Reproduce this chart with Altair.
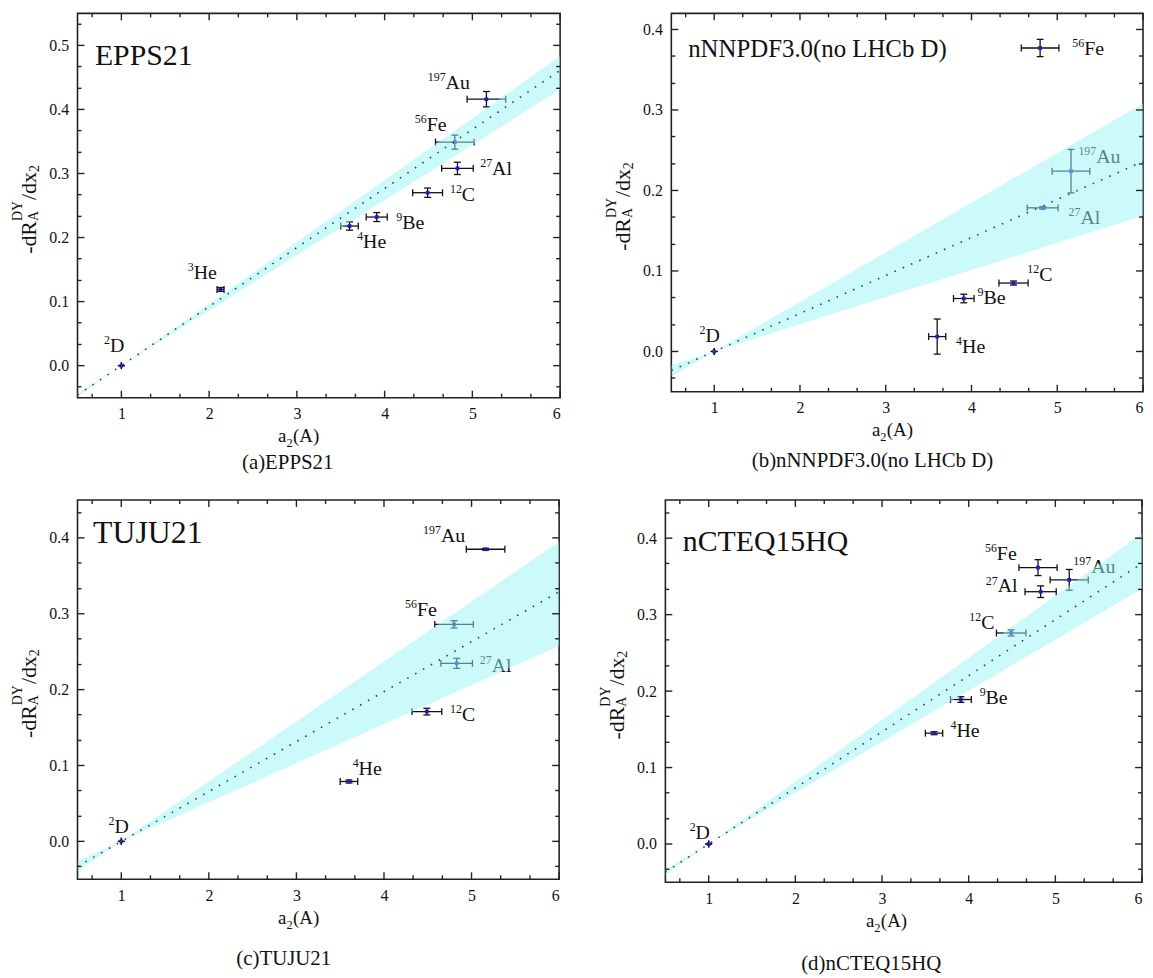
import altair as alt
import pandas as pd

FONT = "Liberation Serif"
INK = "#111111"
EB = "#111111"
PT = "#1a1ac8"
BAND = "#99f5f5"
FIT = "#1e4d4d"

# ---------------- shared tick values ----------------
X_MAJOR = [1, 2, 3, 4, 5, 6]
X_MINOR = [0.667, 1.333, 1.667, 2.333, 2.667, 3.333, 3.667, 4.333, 4.667, 5.333, 5.667]
Y_MAJOR_A = [0.0, 0.1, 0.2, 0.3, 0.4, 0.5]
Y_MINOR_A = [-0.033, 0.033, 0.067, 0.133, 0.167, 0.233, 0.267, 0.333, 0.367, 0.433, 0.467, 0.533]
Y_MAJOR_B = [0.0, 0.1, 0.2, 0.3, 0.4]
Y_MINOR_B = [-0.033, 0.033, 0.067, 0.133, 0.167, 0.233, 0.267, 0.333, 0.367]
Y_MAJOR_CD = [0.0, 0.1, 0.2, 0.3, 0.4]
Y_MINOR_CD = [-0.033, 0.033, 0.067, 0.133, 0.167, 0.233, 0.267, 0.333, 0.367, 0.433]

# ---------------- (a) EPPS21 ----------------
a_mass = ["2", "3", "4", "9", "12", "27", "56", "197"]
a_elem = ["D", "He", "He", "Be", "C", "Al", "Fe", "Au"]
a_x = [1.00, 2.13, 3.60, 3.91, 4.49, 4.83, 4.80, 5.16]
a_xerr = [0.0, 0.04, 0.10, 0.12, 0.17, 0.18, 0.22, 0.22]
a_y = [0.000, 0.119, 0.218, 0.232, 0.270, 0.308, 0.349, 0.416]
a_yerr = [0.0, 0.003, 0.0065, 0.007, 0.0073, 0.0096, 0.011, 0.012]
a_lab_x = [0.87, 1.825, 3.755, 4.20, 4.88, 5.225, 4.48, 4.695]
a_lab_y = [0.021, 0.136, 0.184, 0.214, 0.257, 0.298, 0.367, 0.432]
a_fit_x = [0.5, 6.0]
a_fit_y = [-0.046, 0.461]
a_band_x = [0.5, 1.0, 6.0]
a_band_lo = [-0.048, 0.0, 0.431]
a_band_hi = [-0.043, 0.0, 0.483]

# ---------------- (b) nNNPDF3.0(no LHCb D) ----------------
b_mass = ["2", "4", "9", "12", "27", "56", "197"]
b_elem = ["D", "He", "Be", "C", "Al", "Fe", "Au"]
b_x = [1.00, 3.60, 3.91, 4.49, 4.83, 4.80, 5.16]
b_xerr = [0.0, 0.10, 0.12, 0.17, 0.18, 0.22, 0.22]
b_y = [0.000, 0.0185, 0.0658, 0.085, 0.1784, 0.377, 0.224]
b_yerr = [0.0, 0.0218, 0.0053, 0.0025, 0.0015, 0.0107, 0.027]
b_lab_x = [0.898, 3.89, 4.14, 4.79, 5.27, 5.315, 5.455]
b_lab_y = [0.0116, -0.002, 0.0588, 0.0872, 0.158, 0.368, 0.234]
b_fit_x = [0.5, 6.0]
b_fit_y = [-0.0236, 0.236]
b_band_x = [0.5, 1.0, 6.0]
b_band_lo = [-0.031, 0.0, 0.1686]
b_band_hi = [-0.017, 0.0, 0.308]

# ---------------- (c) TUJU21 ----------------
c_mass = ["2", "4", "12", "27", "56", "197"]
c_elem = ["D", "He", "C", "Al", "Fe", "Au"]
c_x = [1.00, 3.60, 4.49, 4.83, 4.80, 5.16]
c_xerr = [0.0, 0.10, 0.17, 0.18, 0.22, 0.22]
c_y = [0.000, 0.0789, 0.171, 0.2346, 0.286, 0.385]
c_yerr = [0.0, 0.002, 0.0044, 0.0066, 0.0048, 0.0012]
c_lab_x = [0.923, 3.71, 4.89, 5.23, 4.376, 4.65]
c_lab_y = [0.011, 0.0877, 0.1588, 0.2228, 0.297, 0.3947]
c_fit_x = [0.5, 6.0]
c_fit_y = [-0.033, 0.329]
c_band_x = [0.5, 1.0, 6.0]
c_band_lo = [-0.0395, 0.0, 0.2575]
c_band_hi = [-0.0258, 0.0, 0.395]

# ---------------- (d) nCTEQ15HQ ----------------
d_mass = ["2", "4", "9", "12", "27", "56", "197"]
d_elem = ["D", "He", "Be", "C", "Al", "Fe", "Au"]
d_x = [1.00, 3.60, 3.91, 4.49, 4.83, 4.80, 5.16]
d_xerr = [0.0, 0.10, 0.12, 0.17, 0.18, 0.22, 0.22]
d_y = [0.000, 0.145, 0.189, 0.276, 0.330, 0.3615, 0.3455]
d_yerr = [0.0, 0.002, 0.0037, 0.004, 0.0076, 0.0104, 0.0136]
d_lab_x = [0.849, 3.859, 4.195, 4.145, 4.334, 4.325, 5.413]
d_lab_y = [0.0065, 0.1395, 0.1827, 0.2814, 0.329, 0.3714, 0.355]
d_fit_x = [0.5, 6.0]
d_fit_y = [-0.0367, 0.367]
d_band_x = [0.5, 1.0, 6.0]
d_band_lo = [-0.0406, 0.0, 0.334]
d_band_hi = [-0.0334, 0.0, 0.406]

ONE = pd.DataFrame({"k": [0]})


def txt(text, x, y, size, align="left", angle=0, dy=0):
    kw = dict(text=text, font=FONT, fontSize=size, align=align,
              baseline="alphabetic", color=INK)
    if angle:
        kw["angle"] = angle
    if dy:
        kw["dy"] = dy
    return alt.Chart(ONE).mark_text(**kw).encode(x=alt.value(x), y=alt.value(y))


def panel(mass, elem, xs, xerr, ys, yerr, lx, ly, fx, fy, bx, blo, bhi,
          ydom, ymaj, ymin, W, H, title, tsize, tx, ty, caption, cx, cy):
    xsc = alt.Scale(domain=[0.5, 6.0], nice=False, zero=False)
    ysc = alt.Scale(domain=ydom, nice=False, zero=False)
    ax_common = dict(title=None, ticks=False, tickSize=0, domain=False, grid=False,
                     labelFont=FONT, labelFontSize=16, labelColor=INK)
    xax = alt.Axis(values=X_MAJOR, format="d", labelPadding=8, **ax_common)
    yax = alt.Axis(values=ymaj, format=".1f", labelPadding=9, **ax_common)

    def X(f):
        return alt.X(f, type="quantitative", scale=xsc, axis=xax)

    def Y(f):
        return alt.Y(f, type="quantitative", scale=ysc, axis=yax)

    pts = pd.DataFrame({"x": xs, "xe": xerr, "y": ys, "ye": yerr,
                        "mass": mass, "elem": elem, "lx": lx, "ly": ly})
    base = alt.Chart(pts)
    calc = base.transform_calculate(xl="datum.x - datum.xe", xh="datum.x + datum.xe",
                                    yl="datum.y - datum.ye", yh="datum.y + datum.ye")

    mass_t = base.mark_text(font=FONT, fontSize=12, align="right", baseline="alphabetic",
                            dy=-8, color=INK).encode(x=X("lx"), y=Y("ly"), text="mass:N")
    elem_t = base.mark_text(font=FONT, fontSize=20, align="left", baseline="alphabetic",
                            color=INK).encode(x=X("lx"), y=Y("ly"), text="elem:N")
    xbar = calc.mark_rule(color=EB, strokeWidth=1.3).encode(x=X("xl"), x2="xh:Q", y=Y("y"))
    ybar = calc.mark_rule(color=EB, strokeWidth=1.3).encode(x=X("x"), y=Y("yl"), y2="yh:Q")
    xcap = calc.transform_fold(["xl", "xh"]).mark_tick(
        orient="vertical", size=7, thickness=1.3, color=EB, opacity=1).encode(x=X("value"), y=Y("y"))
    ycap = calc.transform_fold(["yl", "yh"]).mark_tick(
        orient="horizontal", size=7, thickness=1.3, color=EB, opacity=1).encode(x=X("x"), y=Y("value"))
    pt = base.mark_square(size=14, color=PT, opacity=1).encode(x=X("x"), y=Y("y"))

    fit = alt.Chart(pd.DataFrame({"fx": fx, "fy": fy})).mark_line(
        color=FIT, strokeWidth=1.6, strokeDash=[1.6, 7.5], clip=True).encode(x=X("fx"), y=Y("fy"))
    band = alt.Chart(pd.DataFrame({"bx": bx, "lo": blo, "hi": bhi})).mark_area(
        color=BAND, opacity=0.5, clip=True).encode(x=X("bx"), y=Y("lo"), y2="hi:Q")

    def tdf(v):
        return alt.Chart(pd.DataFrame({"v": v}))

    tk = dict(color="#222222", strokeWidth=1.4)
    ticks = [
        tdf(X_MAJOR).mark_rule(**tk).encode(x=X("v"), y=alt.value(H), y2=alt.value(H - 7)),
        tdf(X_MINOR).mark_rule(**tk).encode(x=X("v"), y=alt.value(H), y2=alt.value(H - 4)),
        tdf(X_MAJOR).mark_rule(**tk).encode(x=X("v"), y=alt.value(0), y2=alt.value(7)),
        tdf(X_MINOR).mark_rule(**tk).encode(x=X("v"), y=alt.value(0), y2=alt.value(4)),
        tdf(ymaj).mark_rule(**tk).encode(y=Y("v"), x=alt.value(0), x2=alt.value(7)),
        tdf(ymin).mark_rule(**tk).encode(y=Y("v"), x=alt.value(0), x2=alt.value(4)),
        tdf(ymaj).mark_rule(**tk).encode(y=Y("v"), x=alt.value(W), x2=alt.value(W - 7)),
        tdf(ymin).mark_rule(**tk).encode(y=Y("v"), x=alt.value(W), x2=alt.value(W - 4)),
    ]

    # y-axis title  -dR_A^DY/dx_2 (rotated)
    L = 89.3
    s0 = H / 2 + 4 + L / 2
    ytitle = [
        txt("-dR", -42, s0, 22, angle=270),
        txt("A", -40, s0 - 33, 14, angle=270),
        txt("DY", -56, s0 - 33, 14, angle=270),
        txt("/dx", -42, s0 - 54.2, 22, angle=270),
        txt("2", -39, s0 - 82.3, 14, angle=270),
    ]
    # x-axis title  a_2(A)
    x0 = 202
    xb = H + 45
    xtitle = [
        txt("a", x0, xb, 19),
        txt("2", x0 + 8.4, xb + 5, 12.5),
        txt("(A)", x0 + 15, xb, 19),
    ]
    deco = [txt(title, tx, ty, tsize), txt(caption, cx, H + cy, 21, align="center")]

    layers = [elem_t, mass_t, xbar, ybar, xcap, ycap, pt, band, fit] + ticks + ytitle + xtitle + deco
    return alt.layer(*layers).properties(width=W, height=H)


pa = panel(a_mass, a_elem, a_x, a_xerr, a_y, a_yerr, a_lab_x, a_lab_y, a_fit_x, a_fit_y,
           a_band_x, a_band_lo, a_band_hi, [-0.05, 0.55], Y_MAJOR_A, Y_MINOR_A,
           486, 387, "EPPS21", 30, 17.5, 52, "(a)EPPS21", 211.7, 72)
pb = panel(b_mass, b_elem, b_x, b_xerr, b_y, b_yerr, b_lab_x, b_lab_y, b_fit_x, b_fit_y,
           b_band_x, b_band_lo, b_band_hi, [-0.05, 0.42], Y_MAJOR_B, Y_MINOR_B,
           475, 381, "nNNPDF3.0(no LHCb D)", 25, 17, 43.5, "(b)nNNPDF3.0(no LHCb D)", 202.6, 76)
pc = panel(c_mass, c_elem, c_x, c_xerr, c_y, c_yerr, c_lab_x, c_lab_y, c_fit_x, c_fit_y,
           c_band_x, c_band_lo, c_band_hi, [-0.05, 0.45], Y_MAJOR_CD, Y_MINOR_CD,
           485, 382, "TUJU21", 32, 15.7, 43.3, "(c)TUJU21", 207.7, 86)
pd_ = panel(d_mass, d_elem, d_x, d_xerr, d_y, d_yerr, d_lab_x, d_lab_y, d_fit_x, d_fit_y,
            d_band_x, d_band_lo, d_band_hi, [-0.05, 0.45], Y_MAJOR_CD, Y_MINOR_CD,
            480, 385, "nCTEQ15HQ", 30, 17.5, 51, "(d)nCTEQ15HQ", 207.3, 88)

row1 = alt.hconcat(pa, pb, spacing=42)
row2 = alt.hconcat(pc, pd_, spacing=37)

chart = alt.vconcat(row1, row2, spacing=24).properties(
    padding={"left": 2, "top": 0, "right": 0, "bottom": 0},
    background="white",
).configure_view(
    stroke="#222222", strokeWidth=1.6
)

chart.save("out.html", embed_options={"renderer": "svg", "actions": False})
